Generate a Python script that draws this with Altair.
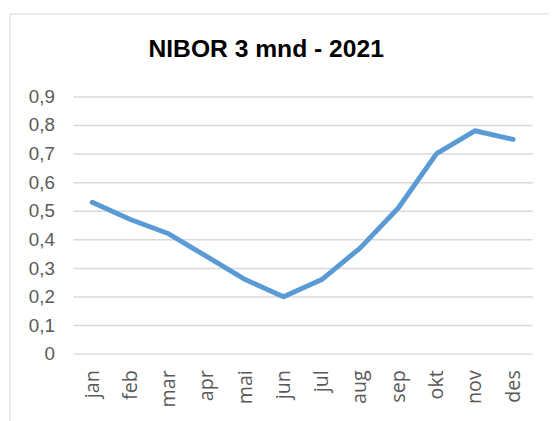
import altair as alt
import pandas as pd

months = ["jan", "feb", "mar", "apr", "mai", "jun", "jul", "aug", "sep", "okt", "nov", "des"]
nibor = [0.53, 0.47, 0.42, 0.34, 0.26, 0.20, 0.26, 0.37, 0.51, 0.70, 0.78, 0.75]
y_ticks = [0, 0.1, 0.2, 0.3, 0.4, 0.5, 0.6, 0.7, 0.8, 0.9]

df = pd.DataFrame({"month": months, "value": nibor})

W, H = 466, 261.3
LEFT, TOP = 66, 86.7

border = alt.Chart(pd.DataFrame({"a": [0]})).mark_rect(
    fill="white", fillOpacity=0, stroke="#d9d9d9", strokeWidth=1
).encode(
    x=alt.value(10 - 8 - LEFT), x2=alt.value(520), y=alt.value(11 - 8 - TOP), y2=alt.value(420)
)

title = alt.Chart(pd.DataFrame({"t": ["NIBOR 3 mnd - 2021"]})).mark_text(
    font="Liberation Sans", fontSize=25, fontWeight="bold", color="#000000",
    align="center", baseline="alphabetic"
).encode(
    text="t:N", x=alt.value(270 - 8 - LEFT), y=alt.value(55 - 8 - TOP)
)

line = alt.Chart(df).mark_line(
    color="#5B9BD5", strokeWidth=5, strokeCap="round", strokeJoin="round"
).encode(
    x=alt.X("month:N", sort=months, title=None,
            scale=alt.Scale(type="point", padding=0.5),
            axis=alt.Axis(labelAngle=-90, labelFont="Open Sans", labelFontSize=20,
                          labelColor="#595959", labelPadding=16, ticks=False,
                          domain=False, grid=False)),
    y=alt.Y("value:Q", title=None,
            scale=alt.Scale(domain=[0, 0.9], nice=False, zero=True),
            axis=alt.Axis(values=y_ticks, format=".1~f", labelExpr="replace(datum.label, '.', ',')",
                          labelFont="Liberation Sans", labelFontSize=19, labelColor="#595959",
                          labelPadding=19, ticks=False, domain=False,
                          gridColor="#d9d9d9", gridWidth=1.5)),
)

chart = alt.layer(border, title, line).properties(
    width=W, height=H,
    autosize=alt.AutoSizeParams(type="none"),
    padding={"left": LEFT, "top": TOP, "right": 549 - LEFT - W, "bottom": 413 - TOP - H},
).configure_view(stroke=None)

chart.save("out.html", embed_options={"renderer": "svg", "actions": False})
